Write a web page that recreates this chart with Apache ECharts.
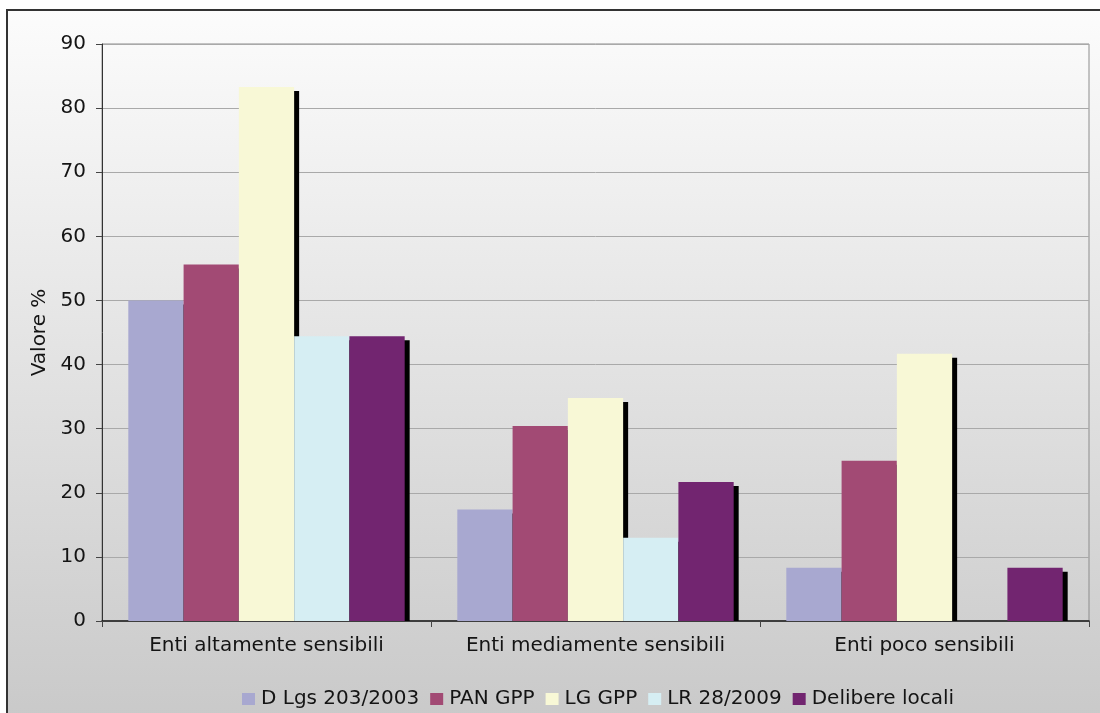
<!DOCTYPE html>
<html>
<head>
<meta charset="utf-8">
<script src="https://cdn.jsdelivr.net/npm/echarts@6/dist/echarts.min.js"></script>
<style>
  html, body { margin: 0; padding: 0; background: #ffffff; }
  #chart { width: 1100px; height: 713px; }
</style>
</head>
<body>
<div id="chart"></div>
<script>
// Categories and series values (%)
var categories = ['Enti altamente sensibili', 'Enti mediamente sensibili', 'Enti poco sensibili'];
var seriesNames = ['D Lgs 203/2003', 'PAN GPP', 'LG GPP', 'LR 28/2009', 'Delibere locali'];
var dLgs = [50.0, 17.4, 8.3];
var panGpp = [55.6, 30.4, 25.0];
var lgGpp = [83.3, 34.8, 41.7];
var lr2009 = [44.4, 13.0, 0];
var delibere = [44.4, 21.7, 8.3];
var yTicks = { min: 0, max: 90, step: 10 };

var seriesValues = [dLgs, panGpp, lgGpp, lr2009, delibere];
var colors = ['#a8a8d0', '#a24a74', '#f8f8d6', '#d6eef3', '#722570'];

var FONT = 'DejaVu Sans';
var N = seriesNames.length;
var INNER = 0.84;      // share of the category band filled by bars
var SH_DX = 5, SH_DY = 4; // offset of the solid black shadow

function barRenderer(k) {
  return function (params, api) {
    var cat = api.value(0);
    var val = api.value(1);
    var base = api.coord([cat, 0]);
    var top = api.coord([cat, val]);
    var band = api.size([1, 0])[0];
    var inner = band * INNER;
    var w = inner / N;
    var x = base[0] - inner / 2 + k * w;
    var h = base[1] - top[1];
    if (h <= 0) return null;
    return {
      type: 'group',
      children: [
        { type: 'rect', shape: { x: x + SH_DX, y: top[1] + SH_DY, width: w, height: Math.max(0, h - SH_DY) }, style: { fill: '#000000' } },
        { type: 'rect', shape: { x: x, y: top[1], width: w, height: h }, style: { fill: api.visual('color') } }
      ]
    };
  };
}

var series = seriesNames.map(function (name, k) {
  return {
    type: 'custom',
    name: name,
    renderItem: barRenderer(k),
    itemStyle: { color: colors[k] },
    encode: { x: 0, y: 1 },
    data: seriesValues[k].map(function (v, i) { return [i, v]; })
  };
});

var chart = echarts.init(document.getElementById('chart'), null, { renderer: 'canvas' });
chart.setOption({
  animation: false,
  textStyle: { fontFamily: FONT },
  graphic: {
    elements: [{
      type: 'rect',
      z: -10,
      silent: true,
      shape: { x: 7, y: 10, width: 1100, height: 710 },
      style: {
        fill: new echarts.graphic.LinearGradient(0, 0, 0, 1, [
          { offset: 0, color: '#fcfcfc' },
          { offset: 1, color: '#c9c9c9' }
        ]),
        stroke: '#333333',
        lineWidth: 2
      }
    }]
  },
  grid: {
    left: 102, top: 44, right: 11, bottom: 92,
    show: true,
    borderColor: '#8c8c8c',
    borderWidth: 1,
    backgroundColor: 'transparent'
  },
  legend: {
    data: seriesNames.map(function (n) { return { name: n, icon: 'rect' }; }),
    left: 237,
    top: 684,
    itemWidth: 13,
    itemHeight: 12,
    itemGap: 11,
    textStyle: { fontFamily: FONT, fontSize: 20, color: '#141414', padding: [0, 0, 7, 1] }
  },
  xAxis: {
    type: 'category',
    data: categories,
    axisLine: { lineStyle: { color: '#1a1a1a', width: 1.5 } },
    axisTick: { show: true, length: 6, lineStyle: { color: '#444' } },
    axisLabel: { fontFamily: FONT, fontSize: 20, color: '#141414', margin: 15, interval: 0 },
    splitLine: { show: false }
  },
  yAxis: {
    type: 'value',
    min: yTicks.min,
    max: yTicks.max,
    interval: yTicks.step,
    name: 'Valore %',
    nameLocation: 'middle',
    nameGap: 52,
    nameTextStyle: { fontFamily: FONT, fontSize: 20, color: '#141414' },
    axisLine: { show: true, lineStyle: { color: '#333', width: 1 } },
    axisTick: { show: true, length: 6, lineStyle: { color: '#444' } },
    axisLabel: { fontFamily: FONT, fontSize: 20, color: '#141414', margin: 16 },
    splitLine: { lineStyle: { color: '#a9a9a9', width: 1 } }
  },
  series: series
});
</script>
</body>
</html>
